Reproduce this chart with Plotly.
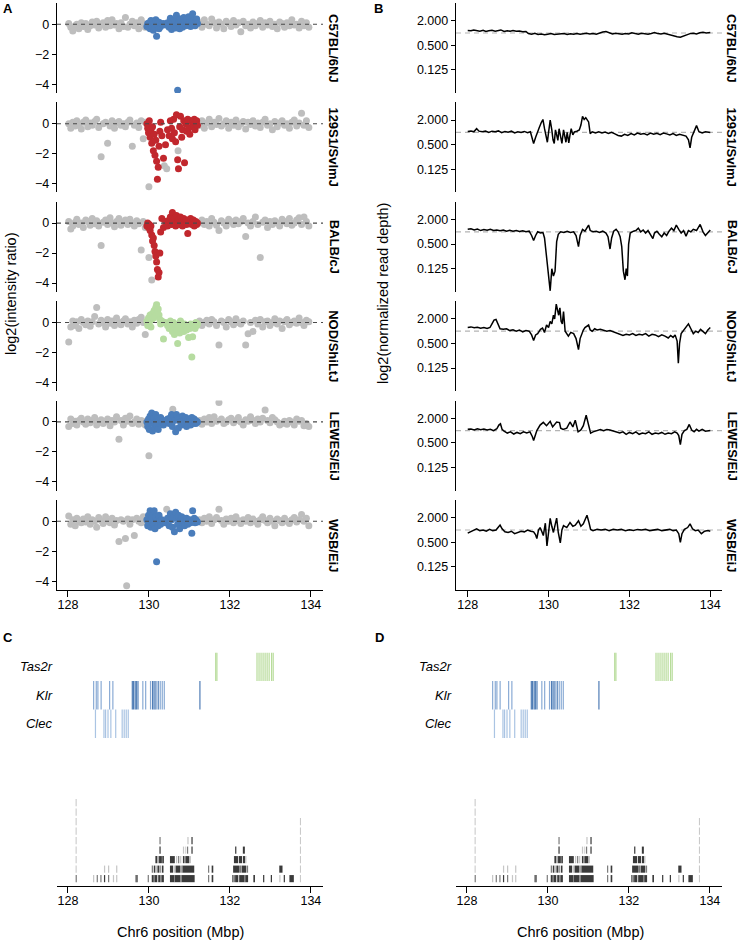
import plotly.graph_objects as go

W, H = 740, 943
FONT = "Liberation Sans, Arial, Helvetica, sans-serif"

STRAINS = ["C57BL/6NJ", "129S1/SvImJ", "BALB/cJ", "NOD/ShiLtJ", "LEWES/EiJ", "WSB/EiJ"]
STRAIN_COLORS = ["#4a7dbb", "#c1272d", "#c1272d", "#b6dca0", "#4a7dbb", "#4a7dbb"]
GRAY = "#bebebe"
X_TICKS = [128, 130, 132, 134]

# ---------------- Panel A: probe positions (Mbp) ----------------
PROBE_LEFT = [128.02, 128.07, 128.12, 128.18, 128.22, 128.27, 128.33, 128.38, 128.44, 128.49,
              128.55, 128.60, 128.66, 128.71, 128.76, 128.82, 128.87, 128.93, 128.98, 129.04,
              129.09, 129.15, 129.20, 129.26, 129.31, 129.37, 129.42, 129.48, 129.53, 129.59,
              129.64, 129.70, 129.75, 129.81, 129.86, 129.91]
PROBE_CORE = [129.95, 129.97, 129.99, 130.01, 130.03, 130.05, 130.07, 130.09, 130.11, 130.13,
              130.15, 130.17, 130.19, 130.21, 130.23, 130.25, 130.27, 130.29, 130.32, 130.36,
              130.41, 130.46, 130.50, 130.53, 130.56, 130.58, 130.61, 130.63, 130.66, 130.68,
              130.71, 130.73, 130.76, 130.78, 130.81, 130.83, 130.86, 130.88, 130.91, 130.93,
              130.96, 130.98, 131.01, 131.03, 131.06, 131.08, 131.10, 131.12, 131.14, 131.16,
              131.18, 131.20]
PROBE_RIGHT = [131.25, 131.31, 131.37, 131.43, 131.49, 131.55, 131.61, 131.67, 131.73, 131.79,
               131.85, 131.91, 131.97, 132.03, 132.09, 132.15, 132.21, 132.27, 132.33, 132.39,
               132.45, 132.51, 132.57, 132.63, 132.69, 132.75, 132.81, 132.87, 132.93, 132.99,
               133.05, 133.11, 133.17, 133.23, 133.29, 133.35, 133.41, 133.47, 133.53, 133.59,
               133.65, 133.71, 133.77, 133.83, 133.89, 133.95]

# log2(intensity ratio) per strain: left / core (highlighted) / right
C57_L = [0.05, -0.2, -0.45, -0.1, 0.0, -0.3, 0.1, -0.15, 0.05, -0.35,
         -0.1, 0.15, -0.05, 0.2, -0.25, 0.0, 0.1, -0.2, 0.25, -0.1,
         0.3, -0.05, 0.05, -0.3, 0.1, -0.15, 0.45, -0.2, 0.0, 0.2,
         -0.1, 0.1, -0.3, 0.3, 0.05, -0.2]
C57_C = [-0.15, 0.05, -0.2, 0.1, -0.3, 0.25, -0.1, 0.2, -0.4, 0.05,
         -0.25, 0.3, -0.8, -0.05, 0.15, -0.3, 0.1, -0.15, 0.0, 0.05,
         -0.05, 0.1, -0.2, 0.4, -0.35, 0.2, -0.1, 0.3, -0.25, 0.6,
         -4.4, 0.1, -0.3, 0.35, 0.0, -0.2, 0.45, 0.15, -0.1, 0.3,
         -0.05, 0.5, 0.1, -0.15, 0.25, 0.7, 0.0, 0.3, -0.1, 0.2,
         0.35, 0.05]
C57_R = [0.1, -0.2, 0.3, 0.0, -0.1, 0.35, 0.1, -0.25, 0.15, 0.0,
         -0.3, 0.2, 0.05, -0.15, 0.25, -0.05, 0.1, -0.5, 0.2, -0.1,
         0.0, -0.25, 0.15, -0.1, 0.05, 0.25, -0.2, 0.1, -0.05, 0.2,
         -0.15, 0.0, -0.3, 0.15, 0.05, -0.2, 0.1, -0.1, 0.3, -0.05,
         0.0, -0.25, 0.2, -0.1, 0.1, -0.2]

S129_L = [0.0, -0.3, 0.1, -0.15, 0.2, -0.05, -0.35, 0.1, 0.25, -0.2,
          0.05, -0.1, 0.15, 0.3, -0.25, -2.2, 0.0, 0.1, -1.3, -0.15,
          0.2, -0.3, 0.05, 0.15, -0.1, 0.0, -0.2, 0.1, 0.25, -1.5,
          -0.1, 0.05, -0.25, 0.2, -1.0, 0.1]
S129_C = [0.0, -0.3, -0.6, 0.2, -0.9, -0.4, -1.3, -0.2, -1.8, -0.7,
          -2.1, -1.1, -2.5, -3.7, -2.9, -1.5, -0.5, 0.1, -0.8, -2.3,
          -1.4, -0.4, -0.8, 0.2, -0.3, -1.0, 0.3, -0.6, -1.2, 0.6,
          -2.4, -3.0, -0.2, 0.5, -0.9, -0.4, 0.2, -2.6, 0.0, -0.5,
          0.3, -0.3, -0.7, 0.2, -0.2, 0.1, -0.1, 0.3, -0.4, 0.0,
          0.2, -0.1]
S129_R = [-0.1, 0.2, -0.3, 0.05, 0.3, -0.2, 0.1, -0.05, 0.35, -0.15,
          0.0, 0.2, -0.3, 0.1, -0.1, 0.25, -0.2, 0.0, 0.15, -0.35,
          0.1, -0.05, 0.2, -0.15, 0.05, -0.25, 0.1, 0.3, -0.1, 0.0,
          -0.4, 0.15, -0.2, 0.05, 0.2, -0.1, 0.0, -0.3, 0.1, 0.25,
          -0.15, 0.05, 0.7, -0.1, 0.2, -0.25]

BALB_L = [0.1, -0.4, -0.2, 0.05, 0.25, -0.1, 0.0, -0.3, 0.2, 0.1,
          -0.15, 0.3, -0.05, 0.15, -0.2, -1.5, 0.05, 0.2, -0.1, 0.35,
          0.0, -0.25, 0.1, 0.3, -0.15, 0.05, 0.2, -0.1, 0.25, 0.0,
          -0.2, 0.15, -0.05, -1.8, 0.1, -0.3]
BALB_C = [-0.2, 0.0, -0.3, -0.1, -0.5, -0.2, -0.8, -1.2, -1.0, -1.5,
          -1.9, -2.2, -2.6, -3.1, -3.6, -3.3, -2.0, -0.6, 0.3, -0.3,
          0.1, -0.2, 0.2, 0.4, -0.1, 0.7, 0.1, 0.3, -0.2, 0.5,
          0.0, 0.2, -0.1, 0.4, 0.1, -0.2, 0.3, 0.0, 0.2, -0.1,
          -0.7, 0.2, 0.0, 0.3, -0.1, 0.1, 0.2, -0.2, 0.0, 0.1,
          -0.1, 0.0]
BALB_R = [0.0, 0.2, -0.1, 0.1, -0.2, 0.3, 0.05, -0.15, -0.5, 0.15,
          0.0, -0.2, 0.25, 0.1, -0.1, 0.2, -0.05, 0.1, 0.3, -0.9,
          0.0, -0.2, 0.1, 0.4, -0.1, -2.3, 0.05, 0.2, -0.3, 0.1,
          -0.1, 0.15, 0.0, -0.2, 0.25, 0.1, -0.05, 0.3, -0.15, 0.0,
          0.2, 0.35, -0.1, 0.4, 0.1, -0.2]

NOD_L = [-1.3, -0.3, 0.1, -0.2, 0.05, -0.4, 0.2, 0.0, -0.15, 0.1,
         -0.25, 0.05, 0.4, 1.0, -0.1, 0.15, 0.0, -0.3, 0.2, -0.05,
         0.1, -0.2, 0.3, 0.0, -0.15, 0.1, 0.25, -0.1, 0.05, -0.3,
         0.15, -0.05, 0.2, 0.35, 0.0, -0.8]
NOD_C = [0.1, -0.2, 0.3, 0.0, 0.5, -0.3, 0.2, 0.6, 0.3, 0.8,
         0.4, 1.0, 1.2, 0.7, 0.9, 0.5, 0.2, -0.1, 0.1, -1.1,
         0.0, -0.2, -0.4, 0.1, -0.3, -0.6, 0.0, -0.8, -0.2, -0.5,
         -1.4, -0.3, -0.7, 0.1, -0.4, -0.2, -0.6, -0.1, -0.3, -0.5,
         -0.2, -1.0, -0.4, -0.1, -2.3, -0.95, -0.3, -0.1, -0.4, 0.0,
         -0.2, -0.1]
NOD_R = [0.1, -0.2, 0.0, 0.15, -0.1, 0.2, 0.05, -0.2, -1.5, 0.1,
         0.0, -0.3, 0.2, 0.05, -0.15, 0.25, 0.0, -0.1, 0.1, -1.5,
         -0.75, 0.0, -0.6, 0.15, -0.1, 0.2, -0.3, 0.05, 0.1, -0.2,
         0.0, 0.25, -0.1, 0.1, -0.4, 0.05, 0.2, -0.15, 0.0, 0.1,
         -0.05, 0.3, 0.0, -0.2, 0.15, 0.05]

LEW_L = [-0.3, 0.2, -0.1, 0.05, -0.2, 0.1, 0.25, 0.0, -0.15, 0.2,
         -0.05, 0.1, 0.3, -0.2, 0.0, 0.15, -0.1, 0.05, 0.2, -0.25,
         0.1, 0.0, 0.35, -1.15, 0.1, -0.2, 0.25, 0.05, 0.4, -0.1,
         0.0, 0.2, -0.15, 0.1, 0.05, -0.2]
LEW_C = [0.0, -0.3, 0.2, -0.5, 0.4, -0.1, 0.6, -0.6, 0.1, 0.3,
         -0.4, 0.5, -0.2, 0.2, -0.5, 0.1, -0.1, 0.3, 0.0, -0.2,
         0.1, 0.2, -0.1, 0.3, 0.5, -0.3, 0.4, 0.1, -0.65, 0.5,
         0.2, -0.4, 0.3, 0.0, -0.2, 0.4, 0.1, -0.1, 0.3, -0.3,
         0.2, 0.0, 0.1, -0.2, 0.3, 0.0, -0.1, 0.2, 0.1, -0.1,
         0.05, 0.0]
LEW_R = [0.1, -0.15, 0.2, 0.0, 0.3, -0.1, 0.35, 0.05, 1.3, 0.2,
         -0.1, 0.0, 0.15, 0.25, -0.05, 0.1, 0.3, 0.0, -0.2, 0.15,
         0.05, 0.35, 0.1, -0.1, 0.2, 0.0, 0.25, 0.8, 0.1, -0.05,
         0.3, 0.15, 0.0, -0.2, -0.1, 0.05, -0.15, 0.1, 0.0, -0.2,
         0.2, 0.05, 0.1, -0.25, -0.1, -0.3]

WSB_L = [0.35, -0.2, 0.1, -0.3, 0.2, 0.0, -0.1, 0.15, -0.05, 0.3,
         -0.2, 0.1, 0.0, -0.4, 0.25, 0.05, -0.15, 0.3, 0.0, -0.1,
         0.2, -0.25, 0.05, -1.35, 0.1, 0.0, -1.15, 0.15, -0.2, 0.1,
         -0.95, 0.2, 0.0, -0.1, 0.3, -0.05]
WSB_C = [0.1, -0.3, 0.4, -0.1, 0.7, -0.4, 0.2, 0.5, -0.2, 0.7,
         -0.5, 0.3, -2.7, 0.1, -0.3, 0.4, 0.0, -0.2, 0.1, 0.0,
         -0.1, 0.2, -0.3, 0.5, 0.1, -0.4, 0.3, -0.7, 0.6, 0.2,
         -0.2, 0.4, -0.5, 0.1, 0.3, -0.1, 0.2, -0.3, 0.1, 0.2,
         -0.2, 0.0, 0.1, -0.1, -0.8, 0.7, 0.0, 0.2, -0.1, 0.1,
         0.0, -0.05]
WSB_R = [0.1, -0.1, 0.2, 0.0, 0.3, -0.15, 0.1, 0.25, 0.8, 0.05,
         -0.2, 0.15, 0.0, 0.2, -0.1, 0.3, 0.05, -0.15, 0.1, 0.0,
         0.25, -0.1, 0.15, 0.0, -0.2, 0.1, 0.3, 0.05, -0.1, 0.2,
         0.0, -0.3, 0.15, 0.05, -0.1, 0.2, 0.0, -0.15, 0.1, 0.25,
         -0.05, 0.1, 0.45, 0.0, 0.2, -0.3]

# non-highlighted (gray) probes inside the core region: (position, value)
EXTRA_C57 = []
EXTRA_129 = [(130.00, -4.2), (130.38, -2.8), (130.44, -3.0), (130.72, -1.8)]
EXTRA_BALB = [(130.00, -2.3), (130.07, -3.8)]
EXTRA_NOD = []
EXTRA_LEW = [(130.00, -2.25), (130.59, 0.85)]
EXTRA_WSB = [(129.45, -4.3), (130.44, 0.8)]

A_LEFT = [C57_L, S129_L, BALB_L, NOD_L, LEW_L, WSB_L]
A_CORE = [C57_C, S129_C, BALB_C, NOD_C, LEW_C, WSB_C]
A_RIGHT = [C57_R, S129_R, BALB_R, NOD_R, LEW_R, WSB_R]
A_EXTRA = [EXTRA_C57, EXTRA_129, EXTRA_BALB, EXTRA_NOD, EXTRA_LEW, EXTRA_WSB]
for a, b, c in zip(A_LEFT, A_CORE, A_RIGHT):
    assert len(a) == len(PROBE_LEFT) and len(b) == len(PROBE_CORE) and len(c) == len(PROBE_RIGHT)

# ---------------- Panel B: log2(normalized read depth), (Mbp, log2) ----------------
B_C57 = [(128.00, 0.2), (128.08, 0.18), (128.15, 0.25), (128.22, 0.2), (128.30, 0.15), (128.38, 0.22),
         (128.45, 0.12), (128.52, 0.18), (128.60, 0.22), (128.68, 0.15), (128.75, 0.2), (128.82, 0.25),
         (128.90, 0.12), (128.98, 0.18), (129.05, 0.15), (129.12, 0.2), (129.20, 0.14), (129.28, 0.17),
         (129.36, 0.1), (129.44, 0.12), (129.50, -0.05), (129.58, -0.1), (129.66, -0.02), (129.74, -0.12),
         (129.82, -0.08), (129.90, -0.15), (129.98, -0.1), (130.06, -0.05), (130.14, -0.12), (130.22, -0.08),
         (130.30, -0.1), (130.38, -0.05), (130.46, -0.12), (130.54, -0.06), (130.62, -0.1), (130.70, -0.04),
         (130.78, -0.1), (130.86, -0.08), (130.94, -0.02), (131.02, -0.08), (131.10, -0.05), (131.18, -0.1),
         (131.26, 0.0), (131.34, 0.08), (131.42, 0.12), (131.50, 0.02), (131.58, -0.08), (131.66, -0.02),
         (131.74, -0.06), (131.82, -0.1), (131.90, -0.04), (131.98, -0.08), (132.06, 0.02), (132.14, -0.06),
         (132.22, -0.1), (132.30, -0.02), (132.38, -0.06), (132.46, -0.1), (132.54, -0.04), (132.62, 0.03),
         (132.70, -0.05), (132.78, -0.08), (132.86, -0.02), (132.94, -0.1), (133.02, -0.2), (133.10, -0.25),
         (133.18, -0.3), (133.26, -0.35), (133.34, -0.25), (133.42, -0.15), (133.50, -0.05), (133.58, -0.02),
         (133.66, -0.08), (133.74, 0.02), (133.82, 0.06), (133.90, 0.0), (134.00, 0.05)]
B_129 = [(128.00, 0.08), (128.08, 0.12), (128.15, 0.05), (128.22, 0.3), (128.28, 0.1), (128.36, 0.05),
         (128.44, 0.12), (128.52, 0.0), (128.60, 0.1), (128.68, 0.05), (128.76, 0.12), (128.84, -0.02),
         (128.92, 0.08), (129.00, 0.02), (129.08, 0.1), (129.16, -0.05), (129.24, 0.05), (129.32, 0.0),
         (129.40, 0.08), (129.48, -0.02), (129.55, 0.05), (129.60, -0.5), (129.63, -0.9), (129.68, -0.4),
         (129.72, 0.0), (129.77, 0.4), (129.82, 0.8), (129.86, 1.05), (129.90, 0.3), (129.93, -0.3),
         (129.97, -0.8), (130.00, 0.0), (130.04, 1.0), (130.08, 0.2), (130.11, -0.6), (130.14, -0.9),
         (130.17, 0.2), (130.20, -0.2), (130.23, -0.65), (130.26, 0.3), (130.29, -0.3), (130.33, -0.9),
         (130.37, 0.2), (130.40, -0.3), (130.43, -0.8), (130.46, 0.0), (130.50, -0.85), (130.53, -0.2),
         (130.56, 0.3), (130.60, -0.2), (130.64, 0.05), (130.70, 0.1), (130.76, 0.2), (130.80, 0.6),
         (130.84, 1.3), (130.88, 1.05), (130.92, 1.2), (130.96, 1.0), (130.99, 0.85), (131.03, -0.1),
         (131.08, 0.05), (131.16, -0.05), (131.24, 0.05), (131.32, -0.05), (131.40, 0.02), (131.48, -0.08),
         (131.56, 0.0), (131.64, -0.12), (131.72, -0.25), (131.80, -0.3), (131.88, -0.15), (131.96, -0.25),
         (132.04, -0.1), (132.12, -0.2), (132.20, -0.05), (132.28, -0.15), (132.36, -0.1), (132.44, -0.2),
         (132.52, -0.05), (132.60, -0.15), (132.68, -0.08), (132.76, -0.18), (132.84, -0.05), (132.92, -0.12),
         (133.00, -0.2), (133.08, -0.1), (133.16, -0.25), (133.24, -0.15), (133.32, -0.2), (133.40, -0.3),
         (133.46, -0.6), (133.50, -1.25), (133.54, -0.4), (133.60, 0.1), (133.66, 0.55), (133.72, 0.05),
         (133.80, -0.05), (133.88, 0.05), (134.00, 0.0)]
B_BALB = [(128.00, 0.2), (128.08, 0.25), (128.16, 0.15), (128.24, 0.22), (128.32, 0.1), (128.40, 0.18),
          (128.48, 0.12), (128.56, 0.2), (128.64, 0.1), (128.72, 0.15), (128.80, 0.08), (128.88, 0.15),
          (128.96, 0.05), (129.04, 0.12), (129.12, 0.05), (129.20, 0.1), (129.28, 0.02), (129.36, 0.08),
          (129.44, 0.0), (129.52, 0.05), (129.58, -0.3), (129.63, -0.7), (129.68, -0.3), (129.73, 0.0),
          (129.80, -0.1), (129.86, -0.05), (129.90, -0.5), (129.95, -2.1), (130.00, -3.8), (130.04, -4.8),
          (130.08, -3.0), (130.12, -3.6), (130.16, -3.2), (130.20, -0.8), (130.24, -0.2), (130.30, 0.0),
          (130.38, -0.05), (130.46, 0.05), (130.54, -0.05), (130.62, 0.0), (130.68, -0.3), (130.74, -1.2),
          (130.78, -0.3), (130.84, 0.2), (130.90, 0.05), (130.95, 0.4), (130.99, 0.55), (131.03, 0.1),
          (131.10, 0.0), (131.18, 0.05), (131.26, -0.05), (131.34, 0.05), (131.42, -0.1), (131.47, -0.4),
          (131.52, -1.4), (131.56, -0.5), (131.61, 0.05), (131.67, 0.2), (131.72, 0.0), (131.77, -0.4),
          (131.81, -1.2), (131.85, -3.2), (131.89, -3.9), (131.92, -3.0), (131.95, -3.6), (131.98, -1.0),
          (132.02, -0.1), (132.10, 0.05), (132.16, 0.1), (132.22, 0.3), (132.28, 0.0), (132.34, 0.15),
          (132.40, -0.1), (132.46, 0.1), (132.52, -0.2), (132.58, -0.55), (132.62, -0.1), (132.68, 0.05),
          (132.74, -0.2), (132.80, -0.4), (132.86, -0.1), (132.92, -0.3), (132.98, 0.05), (133.04, 0.3),
          (133.10, 0.1), (133.16, 0.55), (133.22, 0.2), (133.28, -0.1), (133.34, 0.1), (133.40, -0.35),
          (133.46, 0.1), (133.52, 0.0), (133.58, 0.2), (133.66, 0.1), (133.75, 0.6), (133.82, 0.0),
          (133.88, -0.3), (134.00, 0.15)]
B_NOD = [(128.00, 0.3), (128.08, 0.35), (128.16, 0.28), (128.24, 0.32), (128.32, 0.25), (128.40, 0.3),
         (128.48, 0.22), (128.55, 0.3), (128.60, 0.6), (128.65, 0.9), (128.70, 0.95), (128.75, 0.6),
         (128.80, 0.2), (128.88, 0.15), (128.96, 0.2), (129.04, 0.05), (129.12, 0.12), (129.20, 0.0),
         (129.28, 0.1), (129.36, -0.05), (129.44, 0.05), (129.52, 0.0), (129.58, -0.3), (129.63, -0.75),
         (129.68, -0.3), (129.73, -0.2), (129.80, 0.15), (129.85, 0.25), (129.90, -0.1), (129.95, 0.5),
         (130.00, 0.3), (130.04, 0.8), (130.08, 0.6), (130.12, 1.3), (130.15, 1.0), (130.19, 2.2),
         (130.22, 1.7), (130.25, 1.3), (130.28, 1.9), (130.31, 0.8), (130.34, 0.6), (130.37, 1.6),
         (130.41, 0.0), (130.45, -0.2), (130.49, -0.4), (130.55, -0.1), (130.62, -0.2), (130.68, -0.6),
         (130.74, -1.5), (130.78, -0.6), (130.82, -0.2), (130.86, 0.1), (130.90, 0.3), (130.95, 0.4),
         (130.99, 0.5), (131.03, 0.1), (131.08, 0.0), (131.14, 0.2), (131.20, 0.1), (131.28, 0.15),
         (131.36, 0.1), (131.44, 0.0), (131.52, 0.05), (131.60, -0.05), (131.68, -0.1), (131.76, -0.2),
         (131.84, -0.35), (131.92, -0.25), (132.00, -0.3), (132.08, -0.2), (132.16, -0.35), (132.24, -0.25),
         (132.32, -0.3), (132.40, -0.2), (132.48, -0.4), (132.56, -0.25), (132.64, -0.3), (132.72, -0.45),
         (132.80, -0.3), (132.88, -0.4), (132.96, -0.55), (133.02, -0.35), (133.08, -0.5), (133.13, -0.3),
         (133.18, -0.8), (133.21, -2.6), (133.24, -1.0), (133.28, -0.2), (133.34, 0.1), (133.40, 0.3),
         (133.46, 0.6), (133.52, 0.2), (133.58, -0.2), (133.64, 0.0), (133.70, -0.1), (133.76, 0.15),
         (133.82, -0.05), (133.88, -0.2), (133.94, 0.1), (134.00, 0.3)]
B_LEW = [(128.00, 0.1), (128.08, 0.12), (128.16, 0.05), (128.24, 0.15), (128.32, 0.08), (128.40, 0.12),
         (128.48, 0.05), (128.56, 0.1), (128.64, 0.0), (128.72, 0.15), (128.77, 0.45), (128.81, 0.55),
         (128.85, 0.1), (128.90, -0.05), (128.98, -0.2), (129.06, -0.1), (129.14, -0.28), (129.22, -0.15),
         (129.30, -0.25), (129.38, -0.1), (129.46, -0.2), (129.54, -0.1), (129.60, -0.5), (129.63, -0.8),
         (129.67, -0.4), (129.71, 0.0), (129.79, 0.45), (129.87, 0.67), (129.95, 0.4), (130.04, 0.75),
         (130.10, 0.3), (130.20, 0.7), (130.27, 0.65), (130.30, 0.2), (130.36, 0.1), (130.45, 0.2),
         (130.53, 0.7), (130.60, 0.3), (130.66, 0.85), (130.73, -0.1), (130.80, 0.05), (130.86, 0.4),
         (130.93, 1.25), (130.98, 0.5), (131.04, -0.2), (131.10, -0.1), (131.20, 0.0), (131.28, 0.08),
         (131.36, 0.0), (131.44, 0.08), (131.52, 0.05), (131.60, -0.05), (131.68, -0.1), (131.76, -0.2),
         (131.84, -0.1), (131.92, -0.3), (132.00, -0.15), (132.08, -0.25), (132.16, -0.1), (132.24, -0.3),
         (132.32, -0.2), (132.40, -0.25), (132.48, -0.1), (132.56, -0.3), (132.64, -0.2), (132.72, -0.25),
         (132.80, -0.15), (132.88, -0.3), (132.96, -0.2), (133.04, -0.25), (133.12, -0.1), (133.18, -0.2),
         (133.22, -0.4), (133.26, -1.15), (133.30, -0.3), (133.36, 0.0), (133.42, 0.1), (133.48, 0.5),
         (133.54, 0.05), (133.60, -0.1), (133.66, 0.1), (133.72, -0.05), (133.80, 0.1), (133.88, -0.05),
         (134.00, 0.0)]
B_WSB = [(128.00, -0.25), (128.08, -0.1), (128.16, 0.05), (128.22, 0.1), (128.30, -0.05), (128.38, 0.0),
         (128.46, -0.1), (128.54, 0.05), (128.62, -0.05), (128.70, 0.0), (128.76, 0.25), (128.80, 0.4),
         (128.85, 0.1), (128.92, -0.15), (129.00, -0.2), (129.08, -0.1), (129.16, -0.3), (129.24, -0.2),
         (129.32, -0.1), (129.40, -0.15), (129.48, 0.0), (129.56, -0.1), (129.63, -0.15), (129.68, -0.4),
         (129.71, -0.7), (129.75, 0.0), (129.79, 0.2), (129.83, -0.1), (129.87, -0.45), (129.92, 0.55),
         (129.96, -1.3), (130.00, -0.2), (130.04, 0.95), (130.08, 0.3), (130.12, -0.2), (130.16, 0.4),
         (130.20, 0.97), (130.24, -0.2), (130.29, -1.05), (130.33, 0.0), (130.37, 0.35), (130.45, 0.2),
         (130.53, 0.6), (130.60, 0.3), (130.66, 0.4), (130.74, 0.75), (130.80, 0.3), (130.86, 0.5),
         (130.95, 1.2), (131.00, 0.6), (131.04, 0.05), (131.10, -0.05), (131.20, 0.05), (131.30, 0.0),
         (131.40, 0.05), (131.50, -0.05), (131.60, 0.05), (131.70, 0.0), (131.80, 0.05), (131.90, -0.05),
         (132.00, 0.02), (132.10, -0.03), (132.20, 0.05), (132.30, 0.0), (132.40, 0.05), (132.50, -0.05),
         (132.60, 0.0), (132.70, 0.05), (132.80, -0.05), (132.90, 0.0), (133.00, 0.05), (133.08, -0.05),
         (133.16, 0.0), (133.22, -0.3), (133.26, -1.0), (133.30, -0.3), (133.36, 0.05), (133.44, 0.2),
         (133.50, 0.5), (133.56, 0.1), (133.63, -0.05), (133.70, 0.0), (133.78, -0.3), (133.86, -0.1),
         (133.94, -0.05), (134.00, -0.1)]
B_SERIES = [B_C57, B_129, B_BALB, B_NOD, B_LEW, B_WSB]
B_TICKVALS = [1, -1, -3]
B_TICKTEXT = ["2.000", "0.500", "0.125"]

# ---------------- Panels C / D: gene families ----------------
GENE_FAMILIES = ["Tas2r", "Klr", "Clec"]
TAS2R_POS = [131.65, 131.68, 132.67, 132.72, 132.77, 132.82, 132.87, 132.92, 132.97, 133.03, 133.07]
KLR_POS = [128.635, 128.70, 128.74, 128.82, 129.03, 129.11, 129.59, 129.62, 129.66, 129.69,
           129.73, 129.85, 129.92, 130.04, 130.09, 130.12, 130.15, 130.18, 130.23, 130.28,
           130.33, 130.38, 131.26]
KLR_TONE = [0, 0, 0, 0, 0, 0, 1, 1, 1, 1, 1, 0, 0, 0, 1, 0, 1, 0, 1, 0, 0, 0, 1]
CLEC_POS = [128.68, 128.89, 128.93, 128.99, 129.06, 129.18, 129.34, 129.39, 129.44, 129.49]

# stacked segments (start, end, shade) per stacking level (0 = bottom)
RUG_L0 = [(128.19, 128.22, "m"), (128.62, 128.65, "l"), (128.71, 128.74, "m"), (128.80, 128.83, "m"),
          (128.89, 128.92, "d"), (128.99, 129.02, "m"), (129.11, 129.14, "l"), (129.19, 129.22, "l"),
          (129.67, 129.70, "d"), (129.70, 129.73, "m"), (129.97, 130.00, "m"),
          (130.07, 130.12, "d"), (130.12, 130.15, "m"), (130.15, 130.20, "d"), (130.20, 130.23, "l"),
          (130.23, 130.28, "d"), (130.28, 130.31, "m"), (130.31, 130.37, "d"),
          (130.52, 130.62, "d"), (130.62, 130.64, "m"), (130.64, 130.78, "d"), (130.78, 130.81, "m"),
          (130.81, 131.13, "d"), (131.46, 131.49, "m"), (131.55, 131.59, "d"),
          (132.06, 132.09, "d"), (132.10, 132.13, "m"), (132.13, 132.20, "d"), (132.20, 132.23, "l"),
          (132.23, 132.35, "d"), (132.35, 132.38, "m"), (132.38, 132.45, "d"),
          (132.58, 132.62, "d"), (132.82, 132.85, "d"), (133.01, 133.04, "d"), (133.22, 133.25, "l"),
          (133.33, 133.36, "d"), (133.47, 133.58, "d"), (133.73, 133.755, "l")]
RUG_L1 = [(128.19, 128.215, "l"), (128.89, 128.92, "l"), (128.99, 129.02, "l"), (129.19, 129.22, "l"),
          (130.07, 130.10, "m"), (130.12, 130.16, "d"), (130.17, 130.20, "l"), (130.21, 130.26, "d"),
          (130.28, 130.30, "m"), (130.32, 130.36, "d"), (130.52, 130.60, "d"), (130.62, 130.66, "l"),
          (130.66, 130.78, "d"), (130.80, 130.84, "m"), (130.84, 131.12, "d"), (131.46, 131.49, "m"),
          (131.55, 131.59, "d"), (132.08, 132.24, "d"), (132.25, 132.28, "m"), (132.29, 132.40, "d"),
          (132.41, 132.45, "m"), (133.22, 133.30, "d"), (133.73, 133.755, "l")]
RUG_L2 = [(128.19, 128.215, "l"), (130.16, 130.20, "d"), (130.21, 130.24, "m"), (130.25, 130.32, "d"),
          (130.33, 130.37, "d"), (130.52, 130.64, "d"), (130.67, 130.70, "l"), (130.72, 130.75, "m"),
          (130.77, 130.80, "l"), (130.84, 130.88, "d"), (130.90, 131.00, "d"), (131.01, 131.04, "l"),
          (132.10, 132.20, "d"), (132.22, 132.30, "d"), (132.32, 132.38, "d"), (132.39, 132.41, "l"),
          (133.73, 133.755, "l")]
RUG_L3 = [(128.19, 128.215, "l"), (130.26, 130.29, "d"), (130.84, 130.87, "l"), (130.90, 130.92, "l"),
          (130.94, 130.97, "m"), (131.05, 131.08, "d"), (132.13, 132.16, "d"), (132.32, 132.37, "d"),
          (133.73, 133.755, "l")]
RUG_L4 = [(128.19, 128.215, "l"), (130.26, 130.29, "m"), (130.95, 130.98, "l"), (131.05, 131.08, "d"),
          (133.73, 133.755, "l")]
RUG_L5 = [(128.19, 128.215, "l"), (133.73, 133.755, "l")]
RUG_L6 = [(128.19, 128.215, "l"), (133.73, 133.755, "l")]
RUG_L7 = [(128.19, 128.215, "l")]
RUG_L8 = [(128.19, 128.215, "l")]
RUG_LEVELS = [RUG_L0, RUG_L1, RUG_L2, RUG_L3, RUG_L4, RUG_L5, RUG_L6, RUG_L7, RUG_L8]
SHADES = {"d": "#3a3a3a", "m": "#7c7c7c", "l": "#c6c6c6"}

# ---------------- geometry (pixels) ----------------
ROW_TOP0, ROW_STEP, ROW_H = 3.0, 99.4, 90.0
A_XPX, B_XPX = (57, 323), (456, 722)
C_XPX, D_XPX = (57, 323), (456, 722)
XR_A, XR_B = [127.73, 134.30], [127.71, 134.29]
YR_A, YR_B = [-4.58, 1.42], [-4.88, 2.44]


def dom_x(a, b):
    return [a / W, b / W]


def dom_y(top, bottom):
    return [1 - bottom / H, 1 - top / H]


def names(i):
    s = "" if i == 1 else str(i)
    return "x" + s, "y" + s, "xaxis" + s, "yaxis" + s


fig = go.Figure()
layout = {}
shapes = []
ann = []
TICKFONT = dict(size=12.5, color="black", family=FONT)
AX = dict(showgrid=False, zeroline=False, linecolor="black", linewidth=1.3, ticks="outside",
          tickcolor="black", tickwidth=1.1, tickfont=TICKFONT)

for k in range(6):
    top = ROW_TOP0 + ROW_STEP * k
    for panel in ("A", "B"):
        i = k + 1 if panel == "A" else k + 7
        xn, yn, xk, yk = names(i)
        if panel == "A":
            gx = PROBE_LEFT + PROBE_RIGHT + [p for p, _ in A_EXTRA[k]]
            gy = A_LEFT[k] + A_RIGHT[k] + [v for _, v in A_EXTRA[k]]
            fig.add_trace(go.Scatter(x=gx, y=gy, mode="markers", xaxis=xn, yaxis=yn,
                                     marker=dict(color=GRAY, size=7, line=dict(width=0)),
                                     hoverinfo="skip"))
            fig.add_trace(go.Scatter(x=PROBE_CORE, y=A_CORE[k], mode="markers", xaxis=xn, yaxis=yn,
                                     marker=dict(color=STRAIN_COLORS[k], size=7, line=dict(width=0)),
                                     hoverinfo="skip"))
            shapes.append(dict(type="line", xref=f"{xn} domain", yref=yn, x0=0, x1=1, y0=0, y1=0,
                               line=dict(color="#4a4a4a", width=1.1, dash="4px,4px"), layer="above"))
            xdom, xr, yr = dom_x(*A_XPX), XR_A, YR_A
            tv, tt = [0, -2, -4], ["0", "\u22122", "\u22124"]
            strip_x = 334
        else:
            bx = [p for p, _ in B_SERIES[k]]
            by = [v for _, v in B_SERIES[k]]
            fig.add_trace(go.Scatter(x=bx, y=by, mode="lines", xaxis=xn, yaxis=yn,
                                     line=dict(color="black", width=1.5), hoverinfo="skip"))
            shapes.append(dict(type="line", xref=f"{xn} domain", yref=yn, x0=0, x1=1, y0=0, y1=0,
                               line=dict(color="#b4b4b4", width=1.2, dash="5px,4px"), layer="below"))
            xdom, xr, yr = dom_x(*B_XPX), XR_B, YR_B
            tv, tt = B_TICKVALS, B_TICKTEXT
            strip_x = 732
        layout[xk] = dict(AX, domain=xdom, range=xr, anchor=yn, visible=(k == 5), showline=True,
                          ticklen=6, tickvals=X_TICKS, ticklabelstandoff=-3)
        layout[yk] = dict(AX, domain=dom_y(top, top + ROW_H), range=yr, anchor=xn, showline=True,
                          ticklen=4, tickvals=tv, ticktext=tt)
        ann.append(dict(x=strip_x / W, y=1 - (top + ROW_H / 2) / H, xref="paper", yref="paper",
                        text=f"<b>{STRAINS[k]}</b>", textangle=90, showarrow=False,
                        font=dict(size=13, color="black", family=FONT),
                        xanchor="center", yanchor="middle"))

# ---------------- C and D ----------------
GENE_TOP, GENE_BOT = 652.5, 738.0
RUG_TOP, RUG_BOT = 791.0, 886.0


def vlines(pos, center):
    xs, ys = [], []
    for p in pos:
        xs += [p, p, None]
        ys += [center - 0.5, center + 0.5, None]
    return xs, ys


for j, xpx in enumerate([C_XPX, D_XPX]):
    ig, ir = 13 + 2 * j, 14 + 2 * j
    xg, yg, xgk, ygk = names(ig)
    xrn, yrn, xrk, yrk = names(ir)
    # gene family tracks
    klr_dark = [p for p, t in zip(KLR_POS, KLR_TONE) if t == 1]
    klr_light = [p for p, t in zip(KLR_POS, KLR_TONE) if t == 0]
    for pos, center, col in [(TAS2R_POS, 2, "#b8dc9b"), (klr_light, 1, "#8aabd5"),
                             (klr_dark, 1, "#4f7db6"), (CLEC_POS, 0, "#aac4e3")]:
        xs, ys = vlines(pos, center)
        fig.add_trace(go.Scatter(x=xs, y=ys, mode="lines", xaxis=xg, yaxis=yg,
                                 line=dict(color=col, width=1.2), hoverinfo="skip"))
    layout[xgk] = dict(domain=dom_x(*xpx), range=XR_A, anchor=yg, visible=False)
    layout[ygk] = dict(domain=dom_y(GENE_TOP, GENE_BOT), range=[-0.5, 2.5], anchor=xg,
                       showline=False, showgrid=False, zeroline=False, ticks="",
                       tickvals=[2, 1, 0], ticktext=[f"<i>{g}</i>" for g in GENE_FAMILIES],
                       tickfont=dict(size=13, color="black", family=FONT), ticklabelstandoff=4)
    # stacked segments
    cx, wd, base, cols = [], [], [], []
    for lvl, segs in enumerate(RUG_LEVELS):
        for s, e, sh in segs:
            cx.append((s + e) / 2)
            wd.append(e - s)
            base.append(lvl)
            cols.append(SHADES[sh])
    fig.add_trace(go.Bar(x=cx, y=[0.75] * len(cx), base=base, width=wd, xaxis=xrn, yaxis=yrn,
                         marker=dict(color=cols, line=dict(width=0)), hoverinfo="skip"))
    layout[xrk] = dict(AX, domain=dom_x(*xpx), range=XR_A, anchor=yrn, showline=True, ticklen=6,
                       tickvals=X_TICKS, ticklabelstandoff=-3)
    layout[yrk] = dict(domain=dom_y(RUG_TOP, RUG_BOT), range=[-0.4, 9.6], anchor=xrn, visible=False)


# ---------------- text ----------------
def text_ann(x, y, text, size, angle=0, bold=False):
    return dict(x=x / W, y=1 - y / H, xref="paper", yref="paper",
                text=f"<b>{text}</b>" if bold else text, textangle=angle, showarrow=False,
                font=dict(size=size, color="black", family=FONT), xanchor="center", yanchor="middle")


ann += [text_ann(7.5, 8, "A", 13, bold=True), text_ann(378, 8, "B", 13, bold=True),
        text_ann(7.5, 637, "C", 13, bold=True), text_ann(379.5, 637, "D", 13, bold=True),
        text_ann(11, 294, "log2(intensity ratio)", 14.5, angle=-90),
        text_ann(383, 294, "log2(normalized read depth)", 14.5, angle=-90),
        text_ann(180, 932, "Chr6 position (Mbp)", 14.5),
        text_ann(580, 932, "Chr6 position (Mbp)", 14.5)]

fig.update_layout(width=W, height=H, margin=dict(l=0, r=0, t=0, b=0), paper_bgcolor="white",
                  plot_bgcolor="white", showlegend=False, barmode="overlay",
                  font=dict(family=FONT, size=12.5, color="black"),
                  shapes=shapes, annotations=ann, **layout)
fig.write_html("out.html", config={"displayModeBar": False, "staticPlot": True},
               post_script="document.body.style.margin='0';document.body.style.padding='0';")
